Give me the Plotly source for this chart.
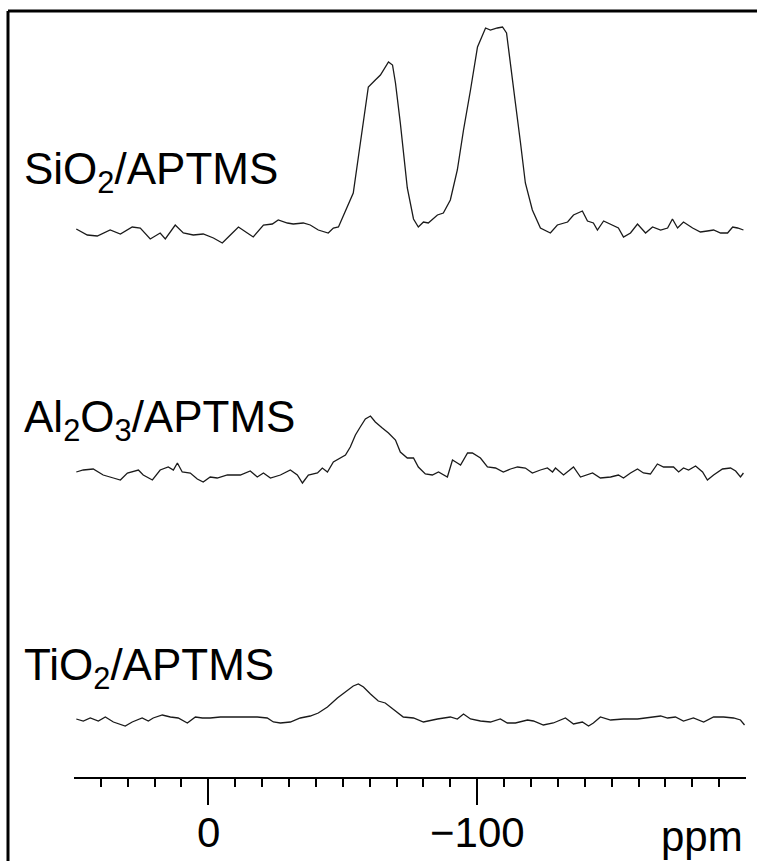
import plotly.graph_objects as go

# 29Si CP/MAS NMR spectra of APTMS grafted on three oxide supports
# chemical shift (ppm) and baseline-corrected intensity (a.u.)

sio2_ppm = [49.1, 45.0, 41.3, 36.5, 32.7, 28.3, 25.3, 21.6, 17.9, 16.0, 12.3, 9.3, 5.6, 1.9,
            -1.9, -5.2, -8.2, -11.2, -14.5, -16.7, -20.5, -23.8, -26.0, -29.4, -31.6, -35.3,
            -37.9, -40.9, -44.6, -46.5, -48.4, -51.7, -53.9, -55.8, -57.7, -59.5, -62.1, -64.0,
            -67.0, -68.5, -69.6, -71.4, -74.0, -76.3, -78.1, -80.0, -81.8, -85.2, -87.4, -90.0,
            -92.6, -94.9, -97.5, -100.1, -103.1, -104.9, -107.5, -109.4, -110.9, -112.4, -114.2,
            -116.1, -117.9, -120.5, -123.5, -127.2, -129.8, -133.6, -135.8, -139.1, -141.0,
            -143.2, -144.7, -147.0, -150.7, -152.5, -154.4, -157.0, -159.6, -162.6, -165.2,
            -168.2, -170.8, -172.6, -174.5, -176.7, -180.1, -183.0, -185.6, -187.9, -190.5,
            -193.1, -195.0, -196.8, -199.0]
sio2_int = [2, -4, -5, 1, -3, 4, 3, -8, -2, -8, 6, -2, -4, -3,
            -7, -12, -4, 4, -2, -6, 6, 7, 11, 8, 7, 8,
            6, 1, -2, 3, 4, 24, 38, 74, 111, 144, 151, 156,
            169, 166, 148, 108, 43, 12, 4, 9, 8, 16, 18, 31,
            61, 101, 141, 184, 203, 201, 203, 204, 198, 168, 128,
            88, 48, 21, 3, -2, 6, 9, 16, 20, 10,
            8, 1, 10, 5, 3, -6, -2, 7, -2, 4,
            1, 3, 12, 3, 9, 3, -1, 0, 1, -2,
            -2, 4, 3, 1]

al2o3_ppm = [49.1, 46.5, 42.8, 39.1, 35.3, 32.7, 30.1, 26.0, 24.2, 20.8, 17.9, 14.9, 13.0, 11.5,
             9.7, 6.7, 4.1, 1.9, -0.7, -3.3, -7.1, -11.9, -15.6, -18.2, -20.5, -23.1, -26.8,
             -30.5, -33.1, -35.0, -37.2, -40.6, -42.4, -44.3, -46.5, -49.1, -51.0, -52.8, -54.7,
             -56.5, -58.4, -60.3, -62.1, -64.7, -67.0, -69.6, -71.4, -74.0, -76.3, -78.1, -80.7,
             -83.3, -85.6, -88.9, -90.8, -92.6, -93.8, -96.4, -98.2, -101.2, -103.8, -106.8,
             -109.7, -112.4, -115.0, -117.9, -120.5, -123.5, -126.1, -128.0, -129.1, -132.1,
             -135.8, -138.4, -142.9, -145.8, -149.6, -152.5, -154.4, -157.0, -159.6, -161.8,
             -164.4, -167.0, -169.3, -173.0, -174.9, -176.7, -178.6, -181.2, -183.8, -185.6,
             -187.9, -191.2, -194.2, -196.1, -197.9, -199.0]
al2o3_int = [0, 2, 3, -3, -6, -8, -1, 2, -3, -8, 2, 5, 2, 9,
             0, -1, -7, -10, -5, -6, -3, -3, 1, -5, -1, -6, -3,
             2, -3, -11, -3, -1, 4, 0, 10, 14, 17, 25, 37,
             45, 53, 56, 50, 44, 39, 32, 20, 14, 14, 5, -2,
             -3, 0, -5, 12, 9, 7, 19, 19, 14, 5, 4,
             0, 3, 5, 4, -1, 2, 4, 0, 4, -3,
             5, -5, -1, -6, -5, -3, -6, -1, 3, -1,
             -2, 8, 5, 5, 0, 4, 2, 6, 0, -8,
             -3, 3, 4, 1, -5, -1]

tio2_ppm = [49.1, 46.5, 43.9, 40.9, 38.3, 35.3, 30.9, 28.3, 24.6, 22.3, 20.5, 17.1, 14.1, 11.2,
            7.8, 4.8, 2.2, -0.7, -4.5, -8.2, -11.9, -14.5, -18.2, -21.9, -24.2, -26.8, -30.5,
            -34.2, -37.9, -40.9, -44.3, -48.0, -51.7, -53.9, -55.8, -57.7, -60.3, -63.2, -65.8,
            -68.8, -72.5, -76.3, -80.0, -85.2, -90.0, -92.6, -94.9, -97.5, -101.2, -104.9,
            -108.6, -111.2, -114.2, -118.7, -120.9, -124.6, -128.3, -132.8, -135.8, -139.1,
            -141.4, -143.2, -145.8, -149.6, -154.4, -159.6, -163.3, -168.2, -170.8, -173.7,
            -176.7, -180.4, -184.2, -187.9, -191.6, -195.3, -197.9, -199.4]
tio2_int = [0, -2, 1, -2, 2, -3, -7, -3, 1, -2, 1, 4, 2, 1,
            -4, 2, 1, 1, 2, 2, 2, 2, 2, 1, -3, -4, -3,
            1, 3, 6, 12, 21, 28, 33, 35, 32, 25, 18, 16,
            10, 2, 1, -3, 0, 2, 0, 5, 0, -2, -3,
            0, -4, -4, -1, -2, -6, -4, 1, -5, -3,
            -7, -4, 2, -1, 0, 0, 1, 3, 1, 2,
            -2, 1, -3, 2, 2, 1, -1, -6]

labels = ["SiO<sub>2</sub>/APTMS", "Al<sub>2</sub>O<sub>3</sub>/APTMS", "TiO<sub>2</sub>/APTMS"]
major_ticks = [0, -100]
major_text = ["0", "\u2212100"]
minor_ticks = [40, 30, 20, 10, -10, -20, -30, -40, -50, -60, -70, -80, -90,
               -110, -120, -130, -140, -150, -160, -170, -180, -190]

# canvas geometry (pixels)
W, H = 757, 861
PL, PR, PT, PB = 74, 746, 10, 777
plot_w, plot_h = PR - PL, PB - PT


def px_x(x):
    return (x - PL) / plot_w


def px_y(y):
    return (PB - y) / plot_h


# vertical stacking: baseline of each spectrum, in plot units (1 unit = 1 px)
offsets = [PB - 231, PB - 472, PB - 719]
label_y = [PB - 172, PB - 420, PB - 668]

FONT = "Liberation Sans, Arial, Helvetica, sans-serif"
fig = go.Figure()
for xs, ys, off in zip([sio2_ppm, al2o3_ppm, tio2_ppm],
                       [sio2_int, al2o3_int, tio2_int], offsets):
    fig.add_trace(go.Scatter(
        x=xs, y=[v + off for v in ys], mode="lines",
        line=dict(color="#1a1a1a", width=1.3), showlegend=False, hoverinfo="skip"))

annotations = []
for text, ly in zip(labels, label_y):
    annotations.append(dict(
        text=text, xref="paper", yref="y", x=px_x(22), y=ly,
        xanchor="left", yanchor="middle", showarrow=False,
        font=dict(family=FONT, size=44, color="black")))
# shift tick labels, placed just under the long ticks
for tv, tt in zip(major_ticks, major_text):
    annotations.append(dict(
        text=tt, xref="x", yref="paper", x=tv, y=px_y(833),
        xanchor="center", yanchor="middle", showarrow=False,
        font=dict(family=FONT, size=42, color="black")))
annotations.append(dict(
    text="ppm", xref="paper", yref="paper", x=px_x(745), y=px_y(836),
    xanchor="right", yanchor="middle", showarrow=False,
    font=dict(family=FONT, size=42, color="black")))

# outer frame (top and left edges lie inside the canvas)
shapes = [
    dict(type="line", xref="paper", yref="paper", x0=px_x(8), x1=px_x(W),
         y0=px_y(11), y1=px_y(11), line=dict(color="black", width=3)),
    dict(type="line", xref="paper", yref="paper", x0=px_x(8), x1=px_x(8),
         y0=px_y(11), y1=px_y(H), line=dict(color="black", width=3)),
]

fig.update_layout(
    width=W, height=H,
    margin=dict(l=PL, r=W - PR, t=PT, b=H - PB, pad=0, autoexpand=False),
    paper_bgcolor="white", plot_bgcolor="white",
    annotations=annotations, shapes=shapes,
    xaxis=dict(
        range=[49.95, -199.95], showgrid=False, zeroline=False, automargin=False,
        showline=True, linecolor="black", linewidth=2,
        ticks="outside", ticklen=26, tickwidth=1.5, tickcolor="black",
        tickvals=major_ticks, showticklabels=False,
        minor=dict(tickvals=minor_ticks, ticks="outside", ticklen=8,
                   tickwidth=1.5, tickcolor="black"),
        fixedrange=True,
    ),
    yaxis=dict(range=[0, plot_h], visible=False, fixedrange=True, automargin=False),
)

fig.write_html("out.html", config={"displayModeBar": False})
